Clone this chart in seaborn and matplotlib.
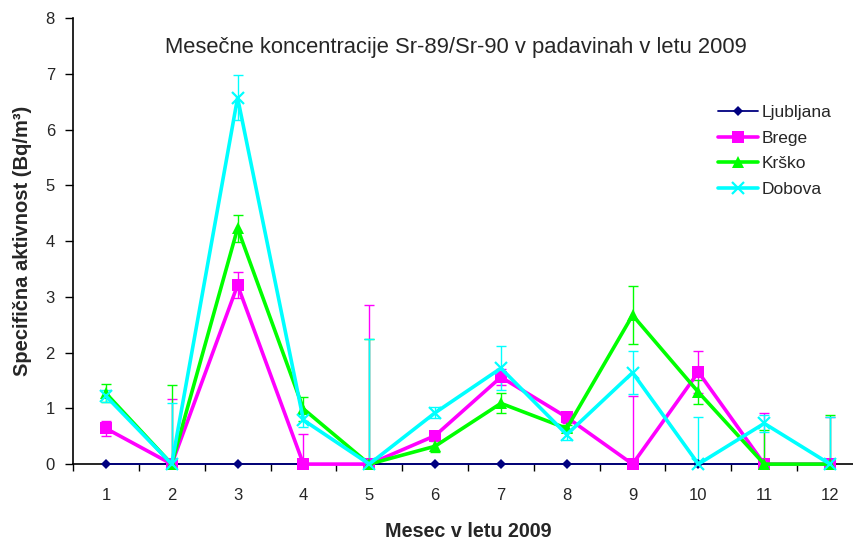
import numpy as np
import pandas as pd
import matplotlib
matplotlib.use("Agg")
import matplotlib.pyplot as plt
import seaborn as sns

months = list(range(1, 13))

ljubljana = [0, 0, 0, 0, 0, 0, 0, 0, 0, 0, 0, 0]
ljubljana_err = [0, 0, 0, 0, 0, 0, 0, 0, 0, 0, 0, 0]

brege = [0.64, 0, 3.21, 0, 0, 0.51, 1.56, 0.84, 0, 1.65, 0, 0]
brege_err = [0.14, 1.17, 0.24, 0.54, 2.85, 0.08, 0.15, 0.1, 1.22, 0.38, 0.92, 0.85]

krsko = [1.27, 0, 4.23, 0.99, 0, 0.32, 1.09, 0.64, 2.67, 1.29, 0, 0]
krsko_err = [0.16, 1.42, 0.24, 0.22, 2.25, 0.1, 0.18, 0.06, 0.52, 0.22, 0.62, 0.88]

dobova = [1.22, 0, 6.57, 0.79, 0, 0.92, 1.72, 0.53, 1.64, 0, 0.73, 0]
dobova_err = [0.1, 1.09, 0.4, 0.12, 2.25, 0.1, 0.4, 0.1, 0.38, 0.84, 0.15, 0.85]

series_names = ["Ljubljana", "Brege", "Krško", "Dobova"]
title = "Mesečne koncentracije Sr-89/Sr-90 v padavinah v letu 2009"
xlabel = "Mesec v letu 2009"
ylabel = "Specifična aktivnost (Bq/m³)"

sns.set_style("white")
plt.rcParams["font.family"] = ["Liberation Sans", "DejaVu Sans"]

styles = {
    "Ljubljana": dict(color="#000080", marker="D", ms=5.5, lw=1.3, mew=0),
    "Brege": dict(color="#FF00FF", marker="s", ms=9, lw=2.6, mew=0),
    "Krško": dict(color="#00FF00", marker="^", ms=9, lw=2.6, mew=0),
    "Dobova": dict(color="#00FFFF", marker="x", ms=8, lw=2.6, mew=1.6),
}
values = {"Ljubljana": (ljubljana, ljubljana_err), "Brege": (brege, brege_err),
          "Krško": (krsko, krsko_err), "Dobova": (dobova, dobova_err)}

fig = plt.figure(figsize=(8.54, 5.46), dpi=100)
ax = fig.add_axes([0.0855, 0.150, 0.925, 0.817])

for name in series_names:
    y, err = values[name]
    st = styles[name]
    df = pd.DataFrame({"month": months, "value": y})
    sns.lineplot(data=df, x="month", y="value", ax=ax, color=st["color"],
                 linewidth=st["lw"], marker=st["marker"], markersize=st["ms"],
                 markeredgewidth=st["mew"], markeredgecolor=st["color"],
                 label=name, clip_on=False, zorder=3)
    if any(err):
        ax.errorbar(months, y, yerr=err, fmt="none", ecolor=st["color"],
                    elinewidth=1.0, capsize=3.5, capthick=1.0, zorder=2)

ax.set_xlim(0.5, 12.5)
ax.set_ylim(0, 8)
ax.set_xticks(months)
ax.set_xticks(np.arange(0.5, 13, 1), minor=True)
ax.tick_params(axis="x", which="major", bottom=False, length=0, labelsize=12, pad=17)
ax.tick_params(axis="x", which="minor", bottom=True, length=5, width=1,
               direction="out", color="black")
ax.set_yticks(range(0, 9))
ax.tick_params(axis="y", left=True, length=6, width=1, direction="out",
               labelsize=12, color="black", pad=7)

for s in ["top", "right"]:
    ax.spines[s].set_visible(False)
for s in ["left", "bottom"]:
    ax.spines[s].set_color("black")
    ax.spines[s].set_linewidth(1.2)

ax.set_xlabel(xlabel, fontweight="bold", fontsize=14.2, labelpad=14)
ax.set_ylabel(ylabel, fontweight="bold", fontsize=14.5, labelpad=10)
ax.text(0.485, 0.935, title, transform=ax.transAxes, ha="center", va="center", fontsize=15.8)

ax.legend(loc="upper left", bbox_to_anchor=(0.797, 0.84), frameon=False,
          fontsize=12.5, handlelength=2.3, handletextpad=0.2, labelspacing=0.6)

fig.savefig("out.png", dpi=100, facecolor="white")
